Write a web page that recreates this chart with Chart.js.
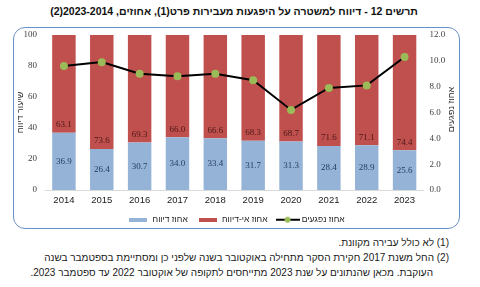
<!DOCTYPE html>
<html lang="he">
<head>
<meta charset="utf-8">
<script src="https://cdn.jsdelivr.net/npm/chart.js@4"></script>
<style>
  html, body { margin: 0; padding: 0; background: #fff; }
  body { width: 480px; height: 287px; position: relative; overflow: hidden; font-family: "Liberation Sans", Arial, sans-serif; }
  #title { position: absolute; top: 5px; left: 0; width: 468px; text-align: center; font-weight: bold; font-size: 10.5px; color: #111; }
  #frame { position: absolute; left: 13px; top: 27px; width: 445px; height: 200px; border: 1.5px solid #6b90c8; border-radius: 12px; }
  #wrap { position: absolute; left: 14px; top: 28px; width: 445px; height: 206px; }
  #notes { position: absolute; top: 235px; right: 31px; width: 440px; font-size: 10px; color: #1a1a1a; line-height: 15px; }
  #notes div { white-space: nowrap; }
</style>
</head>
<body>
<div id="title" dir="rtl">תרשים 12 - דיווח למשטרה על היפגעות מעבירות פרט(1), אחוזים, 2023-2014(2)</div>
<div id="frame"></div>
<div id="wrap"><canvas id="c"></canvas></div>
<div id="notes" dir="rtl">
  <div>(1) לא כולל עבירה מקוונת.</div>
  <div>(2) החל משנת 2017 חקירת הסקר מתחילה באוקטובר בשנה שלפני כן ומסתיימת בספטמבר בשנה</div>
  <div style="padding-right:16px">העוקבת. מכאן שהנתונים על שנת 2023 מתייחסים לתקופה של אוקטובר 2022 עד ספטמבר 2023.</div>
</div>
<script>
const years = ['2014','2015','2016','2017','2018','2019','2020','2021','2022','2023'];
const reported = [36.9, 26.4, 30.7, 34.0, 33.4, 31.7, 31.3, 28.4, 28.9, 25.6];
const notReported = [63.1, 73.6, 69.3, 66.0, 66.6, 68.3, 68.7, 71.6, 71.1, 74.4];
const victims = [9.6, 9.9, 9.0, 8.8, 9.0, 8.5, 6.2, 7.9, 8.1, 10.3];
const seriesNames = ['אחוז דיווח', 'אחוז אי-דיווח', 'אחוז נפגעים'];
const leftTitle = 'שיעור דיווח';
const rightTitle = 'אחוז נפגעים';

const BLUE = '#95b3d7', RED = '#c0504d', GREEN = '#9bbb59';

function makeBox(color, w, h) {
  const c = document.createElement('canvas'); c.width = w; c.height = h;
  const g = c.getContext('2d'); g.fillStyle = color; g.fillRect(0, 0, w, h); return c;
}
function makeLineIcon() {
  const c = document.createElement('canvas'); c.width = 24; c.height = 8;
  const g = c.getContext('2d');
  g.strokeStyle = '#000'; g.lineWidth = 2; g.beginPath(); g.moveTo(0, 4); g.lineTo(24, 4); g.stroke();
  g.fillStyle = GREEN; g.beginPath(); g.arc(12, 4, 3, 0, Math.PI * 2); g.fill();
  return c;
}
const icons = [makeBox(BLUE, 18, 4), makeBox(RED, 18, 4), makeLineIcon()];

const valueLabels = {
  id: 'valueLabels',
  afterDatasetsDraw(chart) {
    const ctx = chart.ctx;
    ctx.save();
    ctx.font = '9px "Liberation Serif", "DejaVu Serif", serif';
    ctx.textAlign = 'center';
    ctx.textBaseline = 'middle';
    [0, 1].forEach(di => {
      const meta = chart.getDatasetMeta(di);
      const data = chart.data.datasets[di].data;
      meta.data.forEach((el, i) => {
        const txt = data[i].toFixed(1);
        if (di === 0) {
          ctx.fillStyle = '#1f3a5a';
          ctx.fillText(txt, el.x, (el.y + el.base) / 2);
        } else {
          ctx.fillStyle = '#4a1818';
          ctx.fillText(txt, el.x, el.base - 8);
        }
      });
    });
    ctx.restore();
  }
};

const rightAxisTitle = {
  id: 'rightAxisTitle',
  afterDraw(chart) {
    const s = chart.scales.y1, ctx = chart.ctx;
    ctx.save();
    ctx.font = '9px "Liberation Sans", Arial, sans-serif';
    ctx.fillStyle = '#333';
    ctx.textAlign = 'center';
    ctx.textBaseline = 'middle';
    ctx.translate(s.right - 7, (chart.chartArea.top + chart.chartArea.bottom) / 2 - 3);
    ctx.rotate(-Math.PI / 2);
    ctx.fillText(rightTitle, 0, 0);
    ctx.restore();
  }
};

new Chart(document.getElementById('c'), {
  data: {
    labels: years,
    datasets: [
      { type: 'bar', label: seriesNames[0], data: reported, backgroundColor: BLUE, yAxisID: 'y', stack: 's', order: 2, categoryPercentage: 1, barPercentage: 0.62 },
      { type: 'bar', label: seriesNames[1], data: notReported, backgroundColor: RED, yAxisID: 'y', stack: 's', order: 2, categoryPercentage: 1, barPercentage: 0.62 },
      { type: 'line', label: seriesNames[2], data: victims, yAxisID: 'y1', borderColor: '#000', borderWidth: 2, pointBackgroundColor: GREEN, pointBorderColor: GREEN, pointRadius: 3, tension: 0, order: 0 }
    ]
  },
  options: {
    responsive: true,
    maintainAspectRatio: false,
    animation: false,
    layout: { padding: { top: 7, left: 0, right: 0, bottom: 0 } },
    plugins: {
      tooltip: { enabled: false },
      legend: {
        position: 'bottom',
        labels: {
          usePointStyle: true,
          pointStyleWidth: 20,
          padding: 10,
          color: '#222',
          font: { family: '"Liberation Sans", Arial, sans-serif', size: 8.5 },
          generateLabels(chart) {
            return chart.data.datasets.map((d, i) => ({
              text: d.label, pointStyle: icons[i], datasetIndex: i, hidden: false,
              fillStyle: 'transparent', strokeStyle: 'transparent', lineWidth: 0, fontColor: '#222'
            }));
          }
        }
      }
    },
    scales: {
      x: {
        stacked: true,
        grid: { display: false, drawTicks: false },
        border: { display: true, color: '#d9d9d9', width: 1 },
        ticks: { color: '#222', padding: 5, font: { family: '"Liberation Sans", Arial, sans-serif', size: 9.5 } },
        afterFit(s) { s.height = 15.5; }
      },
      y: {
        stacked: true,
        position: 'left',
        min: 0, max: 100,
        grid: { display: false, drawTicks: false },
        border: { display: false },
        ticks: { stepSize: 20, padding: 8, color: '#404040', font: { family: '"Liberation Serif", serif', size: 9 } },
        title: { display: true, text: leftTitle, color: '#333', padding: { top: 1, bottom: 0 }, font: { family: '"Liberation Sans", Arial, sans-serif', size: 9 } },
        afterFit(s) { s.width = 31; s.paddingTop = 0; s.paddingBottom = 0; }
      },
      y1: {
        position: 'right',
        min: 0, max: 12,
        grid: { display: false, drawTicks: false },
        border: { display: false },
        ticks: { stepSize: 2, padding: 6, color: '#404040', callback: v => Number(v).toFixed(1), font: { family: '"Liberation Serif", serif', size: 9 } },
        afterFit(s) { s.width = 35.5; s.paddingTop = 0; s.paddingBottom = 0; }
      }
    }
  },
  plugins: [valueLabels, rightAxisTitle]
});
</script>
</body>
</html>
